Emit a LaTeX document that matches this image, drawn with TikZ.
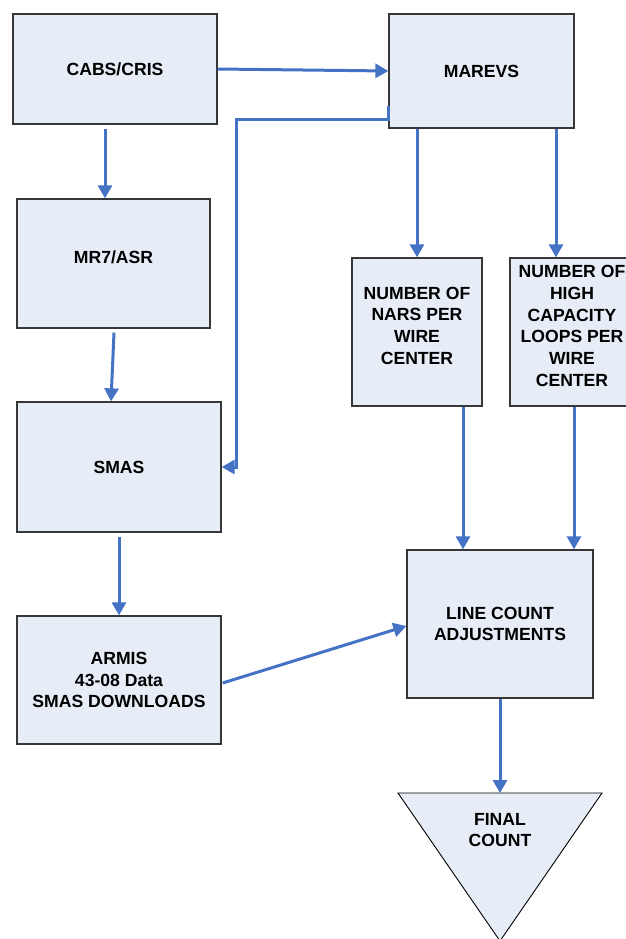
\documentclass[tikz,border=0pt]{standalone}
\usepackage{fontspec}
\setmainfont{Liberation Sans}
\usetikzlibrary{arrows.meta,calc}
\definecolor{boxfill}{RGB}{231,237,247}
\definecolor{arrowblue}{RGB}{68,114,196}
\definecolor{boxline}{RGB}{55,55,55}
\tikzset{
  box/.style={draw=boxline, line width=1.3pt, fill=boxfill, inner sep=0pt, align=center,
    font=\bfseries\fontsize{17.6}{21.7}\selectfont},
  lbl/.style={inner sep=0pt, align=center, font=\bfseries\fontsize{17.6}{21.7}\selectfont},
  conn/.style={draw=arrowblue, line width=3pt, -{Triangle[length=13pt,width=14pt]}},
}
\begin{document}
\begin{tikzpicture}[x=1pt,y=-1pt]
\useasboundingbox (0,0) rectangle (626,939);
% boxes
\node[box, minimum width=204pt, minimum height=110pt] (cabs) at (115,69) {CABS/CRIS};
\node[box, minimum width=185pt, minimum height=114pt] (marevs) at (481.5,71) {MAREVS};
\node[box, minimum width=193pt, minimum height=129pt] (mr7) at (113.5,263.5) {};
\node[lbl] (mr7t) at ($(mr7.center)+(0,-6.5)$) {MR7/ASR};
\node[box, minimum width=204pt, minimum height=130pt] (smas) at (119,467) {SMAS};
\node[box, minimum width=204pt, minimum height=128pt] (armis) at (119,680) {ARMIS\\43-08 Data\\SMAS DOWNLOADS};
\node[box, minimum width=130pt, minimum height=148pt] (nars) at (417,332) {};
\node[lbl] (narst) at ($(nars.center)+(0,-6.5)$) {NUMBER OF\\NARS PER\\WIRE\\CENTER};
\node[box, minimum width=126pt, minimum height=148pt] (high) at (573,332) {};
\node[lbl] (hight) at ($(high.center)+(-1,-6)$) {NUMBER OF\\HIGH\\CAPACITY\\LOOPS PER\\WIRE\\CENTER};
\node[box, minimum width=186pt, minimum height=148pt] (line) at (500,624) {LINE COUNT\\ADJUSTMENTS};
% triangle
\coordinate (ftop) at (500,793);
\coordinate (fleft) at (398,793);
\coordinate (fright) at (602,793);
\coordinate (fapex) at (500,941);
\draw[draw=black, line width=0.9pt, fill=boxfill, line join=miter] (fleft) -- (fright) -- (fapex) -- cycle;
\node[lbl] (final) at (500,830) {FINAL\\COUNT};
% connector helper points
\coordinate (c1) at ($(cabs.south)+(-10,4)$);
\coordinate (c2) at ($(mr7.south)+(0.5,4)$);
\coordinate (c3) at ($(smas.north)+(-8,0)$);
\coordinate (m1) at ($(marevs.west)+(0,35)$);
\coordinate (m2) at ($(marevs.west)+(0,49)$);
\coordinate (m3) at ($(smas.east)+(15,0)$);
\coordinate (h1) at ($(high.north)+(-17,0)$);
\coordinate (n1) at ($(nars.south)+(46,0)$);
\coordinate (h2) at ($(high.south)+(1,0)$);
\coordinate (s1) at ($(smas.south)+(0,4)$);
\coordinate (a1) at ($(armis.east)+(1,3)$);
\coordinate (l1) at ($(line.west)+(0,2)$);
% connectors
\draw[conn] (cabs.east) -- (marevs.west);
\draw[conn] (c1) -- (c1 |- mr7.north);
\draw[conn] (c2) -- (c3);
\draw[conn, line join=miter] (m1) -- (m2) -| (m3) -- (smas.east);
\draw[conn] (nars.north |- marevs.south) -- (nars.north);
\draw[conn] (h1 |- marevs.south) -- (h1);
\draw[conn] (n1) -- (n1 |- line.north);
\draw[conn] (h2) -- (h2 |- line.north);
\draw[conn] (s1) -- (armis.north);
\draw[conn] (a1) -- (l1);
\draw[conn] (line.south) -- (ftop);
\end{tikzpicture}
\end{document}
